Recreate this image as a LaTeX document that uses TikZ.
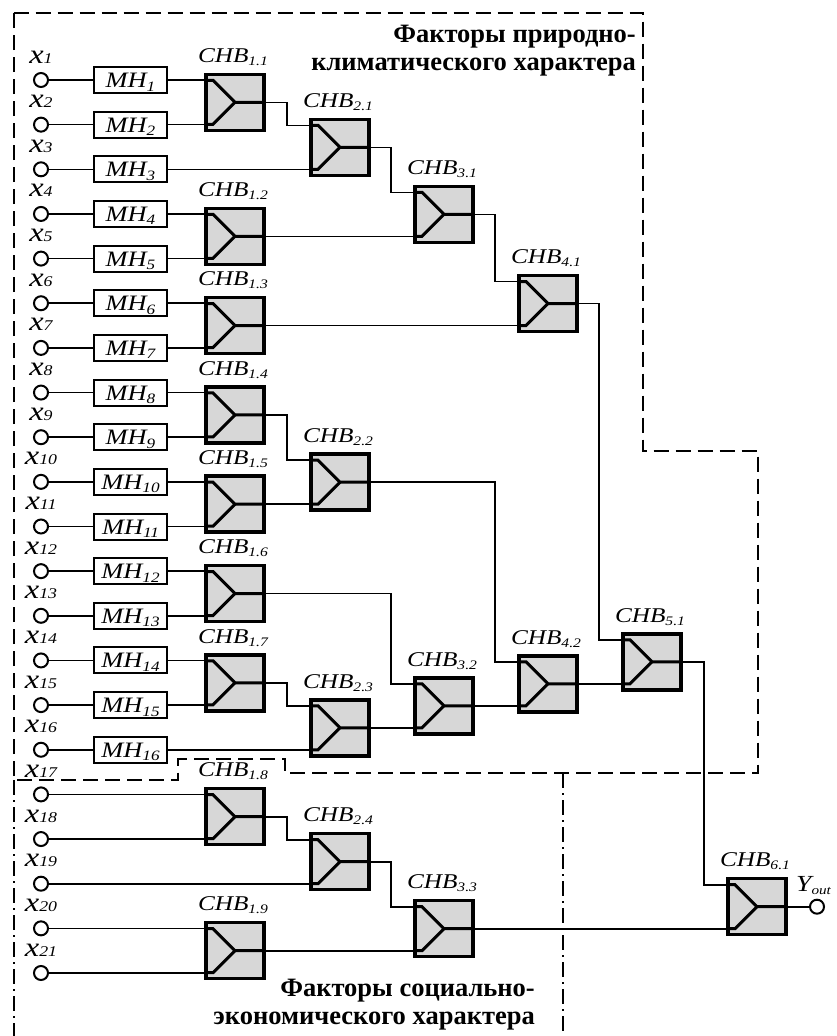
\documentclass[tikz,border=0pt]{standalone}
\usepackage{fontspec}
\setmainfont{Liberation Serif}
\newfontfamily\labelfont[FakeStretch=1.2]{Liberation Serif}
\usetikzlibrary{positioning,calc}
\definecolor{blockgray}{RGB}{215,215,215}
\newcommand{\sub}[3]{\raisebox{#1pt}{\scalebox{#2}{#3}}}

\begin{document}
\begin{tikzpicture}[x=1pt,y=-1pt,
    wire/.style={line width=1.6pt},
    inpin/.style={draw,circle,line width=2pt,minimum size=14pt,inner sep=0pt,fill=white},
    mhbox/.style={draw,line width=2pt,minimum width=73pt,minimum height=26pt,inner sep=0pt,
      text height=15pt,text depth=0pt,font=\labelfont\fontsize{22}{24}\selectfont\itshape},
    chb/.style={draw,line width=3.5pt,fill=blockgray,minimum width=58pt,minimum height=56pt,inner sep=0pt,
      path picture={
        \draw[line width=3pt] ([shift={(-30,-22)}]path picture bounding box.center) -- ++(8,0)
          -- (path picture bounding box.center) -- ++(30,0);
        \draw[line width=3pt] ([shift={(-30,22)}]path picture bounding box.center) -- ++(8,0)
          -- (path picture bounding box.center);}},
    chbname/.style={inner sep=0pt,font=\labelfont\fontsize{21}{22}\selectfont\itshape},
    xname/.style={inner sep=0pt,font=\labelfont\fontsize{27}{28}\selectfont\itshape},
    title/.style={inner sep=0pt,align=right,font=\fontsize{26.5}{28}\selectfont\bfseries},
    region/.style={line width=2pt,dash pattern=on 15pt off 7pt},
    subregion/.style={line width=2pt,dash pattern=on 15pt off 5pt on 2pt off 5pt}]
  \useasboundingbox (0,0) rectangle (836,1036);

  % borders of the two groups
  \draw[region] (13.5,13) -- (643,13) -- (643,451) -- (758,451) -- (758,773) -- (285,773)
    -- (285,759) -- (178,759) -- (178,780) -- (13.5,780) -- cycle;
  \draw[subregion] (13.5,780) -- (13.5,1036);
  \draw[subregion] (563,773) -- (563,1036);

  \node[title,anchor=north east] (nat) at (636,25) {Факторы природно-\\климатического характера};
  \node[title,anchor=north east] (soc) at (535,979) {Факторы социально-\\экономического характера};

  % inputs
  \foreach \i in {1,...,21} {
    \node[inpin] (x\i) at (41,{80+(\i-1)*44.65}) {};
    \node[xname,anchor=base] (lx\i) at ([yshift=17pt]x\i.center) {x\sub{0}{0.55}{\i}};
  }
  \foreach \i in {1,...,16}
    \node[mhbox] (mh\i) at (130.5,{80+(\i-1)*44.65}) {MH\sub{-3.5}{0.65}{\i}};

  % blocks
  \node[chb] (c11) at (235,102.3) {};
  \node[chb] (c12) at (235,236.3) {};
  \node[chb] (c13) at (235,325.6) {};
  \node[chb] (c14) at (235,414.9) {};
  \node[chb] (c15) at (235,504.2) {};
  \node[chb] (c16) at (235,593.5) {};
  \node[chb] (c17) at (235,682.8) {};
  \node[chb] (c18) at (235,816.7) {};
  \node[chb] (c19) at (235,950.7) {};
  \node[chb] (c21) at (340,147.3) {};
  \node[chb] (c22) at (340,482.2) {};
  \node[chb] (c23) at (340,727.75) {};
  \node[chb] (c24) at (340,861.7) {};
  \node[chb] (c31) at (444,214.3) {};
  \node[chb] (c32) at (444,705.75) {};
  \node[chb] (c33) at (444,928.7) {};
  \node[chb] (c41) at (548,303.6) {};
  \node[chb] (c42) at (548,683.75) {};
  \node[chb] (c51) at (652,661.75) {};
  \node[chb] (c61) at (757,906.7) {};
  \node[inpin] (yout) at (817,906.7) {};

  \foreach \c/\t in {c11/1.1,c12/1.2,c13/1.3,c14/1.4,c15/1.5,c16/1.6,c17/1.7,c18/1.8,c19/1.9,
      c21/2.1,c22/2.2,c23/2.3,c24/2.4,c31/3.1,c32/3.2,c33/3.3,c41/4.1,c42/4.2,c51/5.1,c61/6.1}
    \node[chbname,above=10pt of \c,anchor=base,xshift=-2pt] (n\c) {CHB\sub{-3}{0.62}{\t}};
  \node[chbname,anchor=base west,font=\labelfont\fontsize{23}{25}\selectfont\itshape] (ylab) at (796,891)
    {Y\sub{-3}{0.55}{out}};

  % wires
  \foreach \i in {1,...,16}
    \draw[wire] (x\i) -- (mh\i);
  \foreach \i/\c in {1/c11,2/c11,3/c21,4/c12,5/c12,6/c13,7/c13,8/c14,9/c14,10/c15,11/c15,
      12/c16,13/c16,14/c17,15/c17,16/c23}
    \draw[wire] (mh\i) -- (mh\i -| \c.west);
  \foreach \i/\c in {17/c18,18/c18,19/c24,20/c19,21/c19}
    \draw[wire] (x\i) -- (x\i -| \c.west);

  \draw[wire] (c11.east) -| ([xshift=-22pt,yshift=22pt]c21.west) -- ([yshift=22pt]c21.west);
  \draw[wire] (c21.east) -| ([xshift=-22pt,yshift=22pt]c31.west) -- ([yshift=22pt]c31.west);
  \draw[wire] (c31.east) -| ([xshift=-22pt,yshift=22pt]c41.west) -- ([yshift=22pt]c41.west);
  \draw[wire] (c41.east) -| ([xshift=-22pt,yshift=22pt]c51.west) -- ([yshift=22pt]c51.west);
  \draw[wire] (c51.east) -| ([xshift=-22pt,yshift=22pt]c61.west) -- ([yshift=22pt]c61.west);
  \draw[wire] (c14.east) -| ([xshift=-22pt,yshift=22pt]c22.west) -- ([yshift=22pt]c22.west);
  \draw[wire] (c22.east) -| ([xshift=-22pt,yshift=22pt]c42.west) -- ([yshift=22pt]c42.west);
  \draw[wire] (c16.east) -| ([xshift=-22pt,yshift=22pt]c32.west) -- ([yshift=22pt]c32.west);
  \draw[wire] (c17.east) -| ([xshift=-22pt,yshift=22pt]c23.west) -- ([yshift=22pt]c23.west);
  \draw[wire] (c18.east) -| ([xshift=-22pt,yshift=22pt]c24.west) -- ([yshift=22pt]c24.west);
  \draw[wire] (c24.east) -| ([xshift=-22pt,yshift=22pt]c33.west) -- ([yshift=22pt]c33.west);

  \draw[wire] (c12.east) -- (c12.east -| c31.west);
  \draw[wire] (c13.east) -- (c13.east -| c41.west);
  \draw[wire] (c15.east) -- (c15.east -| c22.west);
  \draw[wire] (c23.east) -- (c23.east -| c32.west);
  \draw[wire] (c32.east) -- (c32.east -| c42.west);
  \draw[wire] (c42.east) -- (c42.east -| c51.west);
  \draw[wire] (c19.east) -- (c19.east -| c33.west);
  \draw[wire] (c33.east) -- (c33.east -| c61.west);
  \draw[wire] (c61) -- (yout);
\end{tikzpicture}
\end{document}
